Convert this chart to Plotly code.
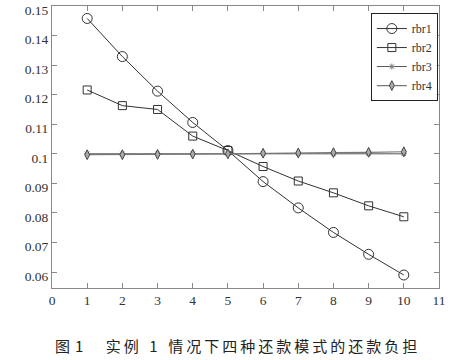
import plotly.graph_objects as go

x_vals = [1, 2, 3, 4, 5, 6, 7, 8, 9, 10]
rbr1 = [0.1458, 0.1329, 0.1212, 0.1106, 0.1011, 0.0906, 0.0817, 0.0734, 0.0660, 0.0590]
rbr2 = [0.1216, 0.1163, 0.1150, 0.1060, 0.1011, 0.0957, 0.0908, 0.0868, 0.0824, 0.0787]
rbr3 = [0.1000, 0.1000, 0.1000, 0.1000, 0.1000, 0.1000, 0.1000, 0.1000, 0.1000, 0.1000]
rbr4 = [0.0997, 0.0997, 0.0998, 0.0999, 0.1000, 0.1002, 0.1003, 0.1004, 0.1005, 0.1007]
x_ticks = list(range(0, 12))
y_ticks = [0.06, 0.07, 0.08, 0.09, 0.10, 0.11, 0.12, 0.13, 0.14, 0.15]
y_tick_text = ["0.06", "0.07", "0.08", "0.09", "0.1", "0.11", "0.12", "0.13", "0.14", "0.15"]
T = "\u2009"
caption = ("图" + "\u2004" + "1" + "\u3000\u2002"
           + T.join(["实", "例", "\u20021\u2002", "情", "况", "下", "四", "种", "还", "款",
                     "模", "式", "的", "还", "款", "负", "担"]))

fig = go.Figure()
fig.add_trace(go.Scatter(x=x_vals, y=rbr1, name="rbr1", mode="lines+markers",
                         line=dict(color="#333333", width=1),
                         marker=dict(symbol="circle-open", size=10, color="#333333", line=dict(width=1))))
fig.add_trace(go.Scatter(x=x_vals, y=rbr2, name="rbr2", mode="lines+markers",
                         line=dict(color="#333333", width=1),
                         marker=dict(symbol="square-open", size=8, color="#333333", line=dict(width=1))))
fig.add_trace(go.Scatter(x=x_vals, y=rbr3, name="rbr3", mode="lines+markers",
                         line=dict(color="#555555", width=1),
                         marker=dict(symbol="asterisk-open", size=5, color="#777777", line=dict(width=1))))
fig.add_trace(go.Scatter(x=x_vals, y=rbr4, name="rbr4", mode="lines+markers",
                         line=dict(color="#777777", width=1.2),
                         marker=dict(symbol="diamond-tall", size=7, color="#aaaaaa",
                                     line=dict(width=1, color="#444444"))))

fig.update_layout(
    template="none",
    width=475, height=360,
    margin=dict(l=52, r=36, t=6, b=72),
    paper_bgcolor="white", plot_bgcolor="white",
    font=dict(family="Liberation Serif", size=13.5, color="#333333"),
    showlegend=True,
    legend=dict(x=0.997, y=0.975, xanchor="right", yanchor="top",
                bgcolor="white", bordercolor="#222222", borderwidth=1,
                font=dict(family="Liberation Serif", size=12, color="#333333"),
                tracegroupgap=0, itemwidth=30),
)
fig.update_xaxes(range=[0, 11], tickvals=x_ticks, ticks="inside", ticklen=5,
                 tickcolor="#888888", showline=True, linecolor="#888888", linewidth=1,
                 mirror="ticks", showgrid=False, zeroline=False, automargin=False,
                 tickfont=dict(color="#333333"))
fig.update_yaxes(range=[0.0546, 0.15001], tickvals=y_ticks, ticktext=y_tick_text,
                 ticks="inside", ticklen=5, tickcolor="#888888", showline=True,
                 linecolor="#888888", linewidth=1, mirror="ticks", showgrid=False,
                 zeroline=False, automargin=False, ticklabeloverflow="allow",
                 ticklabelshift=4, tickfont=dict(color="#333333"))
fig.add_annotation(text=caption, xref="paper", yref="paper", x=0.475, y=-0.203,
                   xanchor="center", yanchor="middle", showarrow=False,
                   font=dict(family="Noto Sans CJK SC", size=15, color="#222222"))

fig.write_html("out.html", config={"displayModeBar": False},
               post_script="document.body.style.margin='0px';")
